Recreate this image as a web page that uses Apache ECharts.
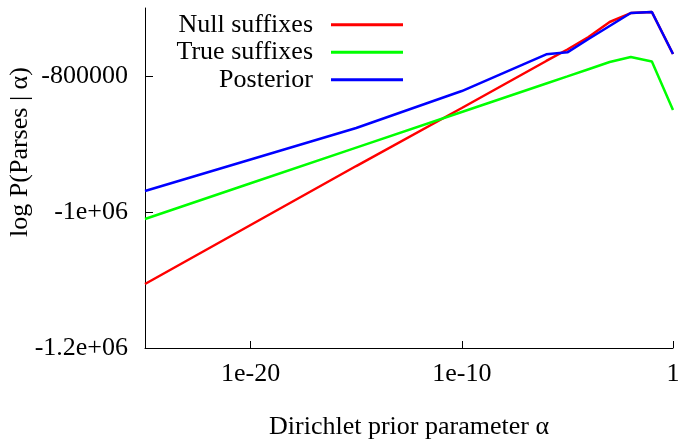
<!DOCTYPE html>
<html>
  <meta charset="UTF-8">
  <title>log P(Parses | alpha)</title>
  <style type="text/css">
    html,body{margin:0px;height:100%;width:100%;background:#fff}
    .container{width:681px;height:441px}
  </style>
  <script type="text/javascript" src="https://cdn.jsdelivr.net/npm/echarts@6/dist/echarts.min.js"></script>
  <body>
    <div id="chart" class="container"></div>

    <script>
      // Dirichlet prior values (x, log scale)
      var alphas = [1e-25, 1e-20, 1e-15, 1e-10, 1e-6, 1e-5, 1e-4, 1e-3, 1e-2, 1e-1, 1];
      var nullSuffixes = [-1105900, -1019100, -932400, -847100, -777900, -761000, -742600, -720600, -707400, -705900, -767600];
      var trueSuffixes = [-1010300, -957800, -905400, -852900, -811000, -800600, -790000, -779400, -772100, -778700, -850000];
      var posterior = [-969100, -922800, -876500, -822100, -768100, -765200, -745600, -726500, -707400, -705900, -767600];

      var xTicks = [1e-20, 1e-10, 1];
      var yTicks = [-1200000, -1000000, -800000];
      var yTickLabels = ['-1.2e+06', '-1e+06', '-800000'];

      var FONT = 'Liberation Serif';

      function pairs(ys) {
        return alphas.map(function (a, i) { return [a, ys[i]]; });
      }

      function lineSeries(name, color, ys) {
        return {
          name: name,
          type: 'line',
          data: pairs(ys),
          symbol: 'none',
          lineStyle: { color: color, width: 2.5 },
          itemStyle: { color: color },
          animation: false
        };
      }

      var myChart = echarts.init(document.getElementById('chart'), null, { renderer: 'canvas' });
      var option = {
        backgroundColor: '#fff',
        animation: false,
        grid: { left: 145, right: 8, top: 8, bottom: 93, outerBoundsMode: 'none', containLabel: false },
        legend: {
          orient: 'vertical',
          left: 148,
          top: 6,
          align: 'right',
          itemGap: 0,
          itemWidth: 72,
          itemHeight: 3,
          icon: 'rect',
          selectedMode: false,
          textStyle: {
            fontFamily: FONT,
            fontSize: 26,
            color: '#000',
            width: 160,
            lineHeight: 27.5,
            align: 'right',
            padding: [0, 13, 0, 0]
          },
          data: ['Null suffixes', 'True suffixes', 'Posterior']
        },
        xAxis: {
          type: 'log',
          logBase: 10,
          min: 1e-25,
          max: 1,
          name: 'Dirichlet prior parameter \u03b1',
          nameLocation: 'middle',
          nameGap: 66,
          nameTextStyle: { fontFamily: FONT, fontSize: 26, color: '#000' },
          axisLine: { lineStyle: { color: '#000', width: 1 } },
          axisTick: { inside: true, length: 7, customValues: xTicks, lineStyle: { color: '#000' } },
          axisLabel: {
            customValues: xTicks,
            margin: 13,
            fontFamily: FONT,
            fontSize: 26,
            color: '#000',
            formatter: function (v) {
              var e = Math.round(Math.log10(v));
              return e === 0 ? '1' : '1e' + e;
            }
          },
          splitLine: { show: false },
          minorTick: { show: false }
        },
        yAxis: {
          type: 'value',
          min: -1200000,
          max: -700000,
          axisLine: { show: true, lineStyle: { color: '#000', width: 1 } },
          axisTick: { show: true, inside: true, length: 8, customValues: yTicks, lineStyle: { color: '#000' } },
          axisLabel: {
            customValues: yTicks,
            margin: 17,
            fontFamily: FONT,
            fontSize: 26,
            color: '#000',
            formatter: function (v) {
              var i = yTicks.indexOf(Math.round(v));
              return i >= 0 ? yTickLabels[i] : '';
            }
          },
          splitLine: { show: false }
        },
        graphic: [{
          type: 'text',
          x: 20,
          y: 152,
          rotation: Math.PI / 2,
          style: {
            text: 'log P(Parses | \u03b1)',
            font: '26px "' + FONT + '"',
            fill: '#000',
            align: 'center',
            verticalAlign: 'middle'
          }
        }],
        series: [
          lineSeries('Null suffixes', '#ff0000', nullSuffixes),
          lineSeries('True suffixes', '#00ff00', trueSuffixes),
          lineSeries('Posterior', '#0000ff', posterior)
        ]
      };
      myChart.setOption(option);
    </script>
  </body>
</html>
